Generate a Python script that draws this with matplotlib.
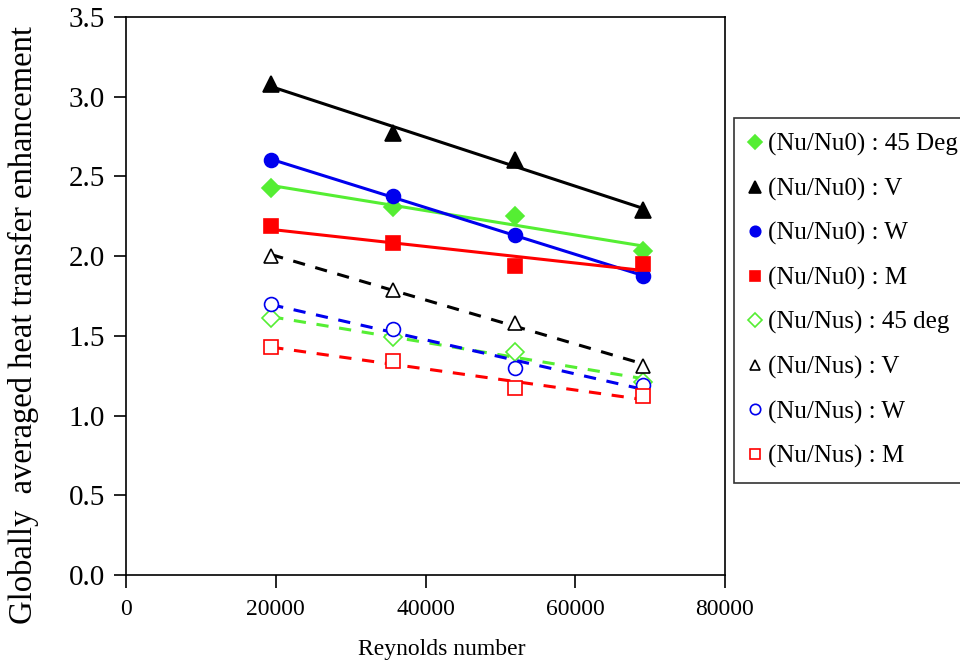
import numpy as np
import matplotlib
matplotlib.use("Agg")
import matplotlib.pyplot as plt

reynolds = [19400, 35600, 52000, 69000]

nu0_45 = [2.43, 2.31, 2.25, 2.03]
nu0_v = [3.08, 2.77, 2.60, 2.29]
nu0_w = [2.60, 2.38, 2.13, 1.875]
nu0_m = [2.19, 2.08, 1.94, 1.95]
nus_45 = [1.61, 1.49, 1.40, 1.21]
nus_v = [2.00, 1.79, 1.58, 1.31]
nus_w = [1.70, 1.54, 1.30, 1.19]
nus_m = [1.43, 1.34, 1.175, 1.12]

labels = ["(Nu/Nu0) : 45 Deg", "(Nu/Nu0) : V", "(Nu/Nu0) : W", "(Nu/Nu0) : M",
          "(Nu/Nus) : 45 deg", "(Nu/Nus) : V", "(Nu/Nus) : W", "(Nu/Nus) : M"]

plt.rcParams['font.family'] = ['Liberation Serif', 'DejaVu Serif']

fig = plt.figure(figsize=(9.6, 6.66), dpi=100)
ax = fig.add_axes([126/960, 1-575/666, (725-126)/960, (575-17)/666])

series = [
    (nu0_45, dict(marker='D', color='#55ee33', mfc='#55ee33', ms=9), '-'),
    (nu0_v, dict(marker='^', color='black', mfc='black', ms=11), '-'),
    (nu0_w, dict(marker='o', color='#0000ee', mfc='#0000ee', ms=10), '-'),
    (nu0_m, dict(marker='s', color='#ff0000', mfc='#ff0000', ms=10), '-'),
    (nus_45, dict(marker='D', color='#55ee33', mfc='white', ms=9), '--'),
    (nus_v, dict(marker='^', color='black', mfc='white', ms=10), '--'),
    (nus_w, dict(marker='o', color='#0000ee', mfc='white', ms=10), '--'),
    (nus_m, dict(marker='s', color='#ff0000', mfc='white', ms=10), '--'),
]

x = np.array(reynolds, dtype=float)
handles = []
for (vals, mk, ls), lab in zip(series, labels):
    y = np.array(vals)
    k, b = np.polyfit(x, y, 1)
    if ls == '--':
        ax.plot(x, k * x + b, color=mk['color'], lw=2.2, ls=(0, (4, 3.5)), zorder=2)
    else:
        ax.plot(x, k * x + b, color=mk['color'], lw=2.2, ls='-', zorder=2)
    h, = ax.plot(x, y, ls='none', marker=mk['marker'], color=mk['color'], mfc=mk['mfc'],
                 mec=mk['color'], ms=mk['ms'], mew=1.2, label=lab, zorder=3)
    handles.append(h)

ax.set_xlim(0, 80000)
ax.set_ylim(0, 3.5)
ax.set_xticks([0, 20000, 40000, 60000, 80000])
ax.set_yticks(np.arange(0, 3.51, 0.5))
ax.yaxis.set_major_formatter(matplotlib.ticker.FormatStrFormatter('%.1f'))
ax.tick_params(axis='both', direction='out', length=9, width=1.2, colors='black')
ax.tick_params(axis='y', labelsize=21, pad=6)
ax.tick_params(axis='x', labelsize=17, pad=8)
for s in ax.spines.values():
    s.set_linewidth(1.2)

ax.set_xlabel("Reynolds number", fontsize=17)
ax.xaxis.set_label_coords(0.527, -0.115)
ax.set_ylabel("Globally  averaged heat transfer enhancement", fontsize=23.5)
ax.yaxis.set_label_coords(-0.146, 0.448)

leg = fig.legend(handles=handles, loc='upper left', bbox_to_anchor=(734/960, 1-118/666),
                 bbox_transform=fig.transFigure, fontsize=18, frameon=True, fancybox=False,
                 edgecolor='black', handlelength=0.5, handletextpad=0.25, labelspacing=0.86,
                 borderpad=0.6, markerscale=0.75, borderaxespad=0)
leg.get_frame().set_linewidth(1.2)

fig.savefig("out.png", dpi=100)
